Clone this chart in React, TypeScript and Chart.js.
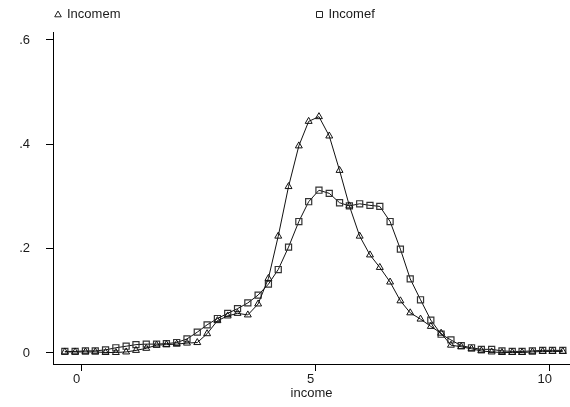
import React, { useEffect, useRef } from 'react';
import { Chart, registerables } from 'chart.js';

Chart.register(...registerables);

// Evaluation grid of the density estimates (income)
const incomeGrid = [
  -0.36, -0.14, 0.08, 0.29, 0.51, 0.73, 0.95, 1.16, 1.38, 1.60,
  1.81, 2.03, 2.25, 2.47, 2.68, 2.90, 3.12, 3.33, 3.55, 3.77,
  3.99, 4.20, 4.42, 4.64, 4.85, 5.07, 5.29, 5.51, 5.72, 5.94,
  6.16, 6.37, 6.59, 6.81, 7.02, 7.24, 7.46, 7.68, 7.89, 8.11,
  8.33, 8.54, 8.76, 8.98, 9.20, 9.41, 9.63, 9.85, 10.06, 10.28,
];

const incomem = [
  0.002, 0.002, 0.002, 0.002, 0.001, 0.001, 0.002, 0.005, 0.009, 0.015,
  0.016, 0.017, 0.019, 0.020, 0.037, 0.062, 0.071, 0.076, 0.073, 0.094,
  0.143, 0.224, 0.319, 0.397, 0.444, 0.453, 0.416, 0.350, 0.282, 0.224,
  0.188, 0.164, 0.136, 0.100, 0.077, 0.065, 0.051, 0.038, 0.015, 0.012,
  0.008, 0.004, 0.002, 0.001, 0.001, 0.001, 0.002, 0.003, 0.003, 0.003,
];

const incomef = [
  0.003, 0.003, 0.004, 0.004, 0.006, 0.010, 0.013, 0.016, 0.017, 0.017,
  0.018, 0.020, 0.027, 0.040, 0.054, 0.066, 0.076, 0.085, 0.096, 0.111,
  0.132, 0.160, 0.203, 0.252, 0.290, 0.312, 0.306, 0.288, 0.282, 0.286,
  0.283, 0.281, 0.252, 0.199, 0.142, 0.102, 0.063, 0.036, 0.025, 0.014,
  0.010, 0.007, 0.007, 0.004, 0.003, 0.003, 0.004, 0.005, 0.005, 0.005,
];

const seriesNames = ['Incomem', 'Incomef'];
const xTickValues = [0, 5, 10];
const xTickLabels = ['0', '5', '10'];
const yTickValues = [0, 0.2, 0.4, 0.6];
const yTickLabels = ['0', '.2', '.4', '.6'];
const xTitle = 'income';

const FONT = '"Liberation Sans", Arial, Helvetica, sans-serif';
const TEXT = '#1a1a1a';

export default function App() {
  const ref = useRef<HTMLCanvasElement | null>(null);

  useEffect(() => {
    document.body.style.margin = '0';
    const canvas = ref.current;
    if (!canvas) return;

    const legendPlugin = {
      id: 'stataLegend',
      afterDraw(chart: any) {
        const ctx = chart.ctx;
        ctx.save();
        const xs = [58, 319.5];
        const y = 14.5;
        chart.data.datasets.forEach((ds: any, i: number) => {
          const x = xs[i];
          ctx.strokeStyle = '#222';
          ctx.lineWidth = 1;
          ctx.beginPath();
          if (i === 0) {
            ctx.moveTo(x, y - 3.5);
            ctx.lineTo(x + 3.3, y + 2.3);
            ctx.lineTo(x - 3.3, y + 2.3);
            ctx.closePath();
          } else {
            ctx.rect(x - 3, y - 3, 6, 6);
          }
          ctx.stroke();
          ctx.fillStyle = TEXT;
          ctx.font = `13px ${FONT}`;
          ctx.textBaseline = 'middle';
          ctx.textAlign = 'left';
          ctx.fillText(ds.label, x + 9, y);
        });
        ctx.restore();
      },
    };

    const chart = new Chart(canvas, {
      type: 'scatter',
      data: {
        datasets: [
          {
            label: seriesNames[0],
            data: incomeGrid.map((x, i) => ({ x, y: incomem[i] })),
            showLine: true,
            borderColor: '#111',
            borderWidth: 1,
            tension: 0,
            pointStyle: 'triangle',
            pointRadius: 4,
            pointBorderColor: '#111',
            pointBackgroundColor: 'rgba(0,0,0,0)',
            pointBorderWidth: 1,
          },
          {
            label: seriesNames[1],
            data: incomeGrid.map((x, i) => ({ x, y: incomef[i] })),
            showLine: true,
            borderColor: '#111',
            borderWidth: 1,
            tension: 0,
            pointStyle: 'rect',
            pointRadius: 4.3,
            pointBorderColor: '#333',
            pointBackgroundColor: 'rgba(0,0,0,0)',
            pointBorderWidth: 1.2,
          },
        ],
      },
      options: {
        animation: false,
        responsive: false,
        devicePixelRatio: 1,
        layout: { autoPadding: false, padding: { top: 32, right: 0, bottom: 0, left: 0 } },
        plugins: {
          legend: { display: false },
          tooltip: { enabled: false },
        },
        scales: {
          x: {
            type: 'linear',
            min: -0.613,
            max: 10.434,
            afterBuildTicks: (s: any) => {
              s.ticks = xTickValues.map((v) => ({ value: v }));
            },
            afterFit: (s: any) => {
              s.height = 43;
            },
            ticks: {
              callback: (_v: any, i: number) => xTickLabels[i],
              labelOffset: -5,
              padding: 1,
              maxRotation: 0,
              autoSkip: false,
              color: TEXT,
              font: { family: FONT, size: 13 },
            },
            grid: {
              display: true,
              drawOnChartArea: false,
              drawTicks: true,
              tickLength: 7,
              color: '#000',
              lineWidth: 1,
            },
            border: { display: true, color: '#000', width: 1 },
            title: {
              display: true,
              text: xTitle,
              color: TEXT,
              font: { family: FONT, size: 13 },
              padding: { top: 0, bottom: 6 },
            },
          },
          y: {
            type: 'linear',
            min: -0.0211,
            max: 0.6153,
            afterBuildTicks: (s: any) => {
              s.ticks = yTickValues.map((v) => ({ value: v }));
            },
            afterFit: (s: any) => {
              s.width = 53;
            },
            ticks: {
              callback: (_v: any, i: number) => yTickLabels[i],
              padding: 16,
              autoSkip: false,
              color: TEXT,
              font: { family: FONT, size: 13 },
            },
            grid: {
              display: true,
              drawOnChartArea: false,
              drawTicks: true,
              tickLength: 7,
              color: '#000',
              lineWidth: 1,
            },
            border: { display: true, color: '#000', width: 1 },
          },
        },
      },
      plugins: [legendPlugin],
    });

    return () => chart.destroy();
  }, []);

  return (
    <div style={{ position: 'absolute', left: 0, top: 0, width: 570, height: 407 }}>
      <canvas ref={ref} width={570} height={407} style={{ width: 570, height: 407, display: 'block' }} />
    </div>
  );
}
